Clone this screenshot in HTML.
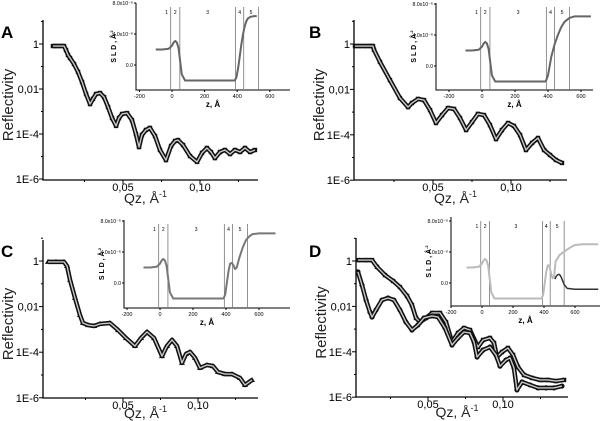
<!DOCTYPE html>
<html><head><meta charset="utf-8"><style>
html,body{margin:0;padding:0;background:#fff;}
svg{display:block;font-family:"Liberation Sans",sans-serif;}
</style></head><body>
<svg id="fig" width="600" height="421" viewBox="0 0 600 421" xmlns="http://www.w3.org/2000/svg">
<rect width="600" height="421" fill="#fff"/>
</svg>
<script>
// ---- Panel A data ----
const qA=[.0045,.0065,.0091,.0117,.013,.0143,.0156,.0182,.0208,.0234,.026,.0286,.0305,.0325,.0351,.0377,.0403,.0429,.0455,.0474,.0494,.0526,.0558,.0584,.0604,.0623,.0649,.0675,.0708,.074,.0779,.0812,.0838,.0857,.089,.0935,.0981,.1013,.1045,.1071,.1097,.113,.1162,.1195,.1227,.126,.1292,.1325,.1357];
const logRA=[-.09,-.09,-.09,-.09,-.27,-.49,-.62,-.89,-1.24,-1.69,-2.22,-2.67,-2.44,-2.22,-2.18,-2.36,-2.8,-3.29,-3.64,-3.29,-3.11,-3.07,-3.38,-4.0,-4.58,-4.04,-3.82,-3.73,-4.09,-4.71,-5.16,-4.53,-4.31,-4.27,-4.49,-4.98,-5.24,-4.84,-4.62,-4.8,-5.07,-4.8,-4.71,-4.89,-4.71,-4.8,-4.62,-4.8,-4.71];
// ---- Panel B data ----
const qB=[0,.0032,.0064,.0096,.0115,.0122,.016,.0224,.0288,.034,.0365,.0404,.0442,.0481,.0519,.0558,.0596,.0635,.0673,.0712,.075,.0788,.0827,.0865,.0904,.0942,.0981,.1019,.1058,.1096,.1135,.1173,.1212,.125,.1288,.1327];
const logRB=[-.09,-.09,-.09,-.09,-.09,-.26,-.79,-1.59,-2.38,-2.78,-2.6,-2.42,-2.47,-2.91,-3.48,-3.13,-2.82,-2.86,-3.26,-3.79,-3.44,-3.08,-3.13,-3.57,-4.19,-3.79,-3.48,-3.61,-4.01,-4.67,-4.36,-4.14,-4.67,-4.89,-5.11,-5.24];
// ---- Panel C data ----
const qC=[0,.0053,.0107,.0127,.0147,.018,.0213,.0233,.0267,.0307,.0347,.0413,.0467,.052,.058,.062,.066,.0707,.076,.0793,.0827,.086,.0893,.092,.0947,.098,.1013,.106,.11,.1133,.118,.1227,.128,.1313,.136];
const logRC=[-.04,-.04,-.04,-.22,-.83,-1.62,-2.37,-2.72,-2.81,-2.85,-2.76,-2.72,-3.03,-3.38,-3.73,-3.38,-3.11,-3.38,-4.17,-3.73,-3.46,-3.73,-4.47,-4.08,-3.99,-4.25,-4.69,-4.56,-4.61,-4.87,-4.96,-4.96,-5.13,-5.44,-5.22];
// ---- Panel D data ----
const qD1=[.0033,.0087,.0127,.016,.0213,.0267,.0313,.036,.0393,.042,.0447,.0487,.0527,.058,.062,.066,.07,.074,.078,.0833,.0867,.0913,.094,.096,.0993,.1033,.1067,.11,.114,.1193,.1247,.13,.1353,.1407];
const logRD1=[.04,.04,.04,-.26,-.62,-.88,-1.15,-1.54,-1.94,-2.51,-2.69,-2.51,-2.29,-2.29,-2.69,-3.57,-3.17,-2.95,-3.04,-3.79,-3.48,-3.39,-3.61,-4.23,-4.01,-3.83,-4.14,-4.67,-5.02,-5.15,-5.24,-5.24,-5.29,-5.24];
const qD2=[.0033,.006,.0087,.0113,.0127,.0153,.0193,.0233,.0273,.0313,.0353,.0393,.0433,.0473,.0527,.0567,.0613,.066,.07,.074,.078,.0807,.0827,.0867,.0913,.0953,.098,.102,.1047,.1073,.1093,.1127,.118,.1233,.1287,.134,.1393];
const logRD2=[-.48,-1.06,-1.72,-2.25,-2.47,-2.16,-1.72,-1.63,-1.72,-2.16,-2.69,-3.04,-2.82,-2.51,-2.42,-2.47,-2.95,-3.7,-3.39,-3.13,-3.17,-3.57,-4.23,-3.92,-3.79,-4.14,-4.63,-4.36,-4.27,-4.71,-5.68,-5.33,-5.46,-5.59,-5.59,-5.59,-5.51];
// ---- SLD profiles ----
const zBase=[-100,-60,-20,0,10,20,30,40,50,60,80,150,250,350,385];
const sldBase=[2,2,2.1,2.5,2.9,3.1,2.9,2.2,0.5,-1.2,-2,-2,-2,-2,-2];
const zTailA=[395,405,415,425,435,445,455,465,480,500,520];
const sldTailA=[-1.6,-0.5,1,2.6,3.9,4.9,5.6,6,6.2,6.3,6.3];
const zTailB=[390,400,410,420,440,460,480,500,530,560,620,660];
const sldTailB=[-1.8,-1.2,0,1.2,2.8,4,5,5.7,6.2,6.4,6.4,6.4];
const zTailC=[395,405,415,425,435,445,455,465,480,500,520,540,560,600,700];
const sldTailC=[-1.5,0,1.5,2.5,2.6,2.3,1.8,2.0,3.2,4.5,5.5,6,6.3,6.4,6.4];
const zTailD=[395,405,415,425,435,445,455,465,475,500,540,580,600,650,750];
const sldTailD=[-1.5,0,1.5,2.3,2.2,1.3,0.6,0.8,2.8,3.6,4.2,4.7,4.9,5,5];
const zDark=[470,480,490,500,510,520,530,550,600,750];
const sldDark=[0.5,0.9,1.1,1.1,0.8,0.3,-0.2,-0.7,-0.8,-0.8];
const regionZ=[-8,48,390,440,530];
const regionLabels=["1","2","3","4","5"];
const yTickLogs=[0,-2,-4,-6];
const yTickLabels=["1","0,01","1E-4","1E-6"];
const xTickQs=[0.05,0.10];
const xTickLabels=["0,05","0,10"];
const zTicks=[-200,0,200,400,600];
const sldTicks=[0,4,8];
const sldTickLabels=["0.0","4.0x10\u207B\u2076","8.0x10\u207B\u2076"];

const NS="http://www.w3.org/2000/svg";
const svg=document.getElementById('fig');
function el(tag,attrs,parent,text){const e=document.createElementNS(NS,tag);for(const k in attrs)e.setAttribute(k,attrs[k]);if(text!==undefined)e.textContent=text;(parent||svg).appendChild(e);return e;}

function panel(P){
  const g=el('g',{});
  
  
  const X=q=>P.q0+q*P.qs, Y=l=>P.y0-l*P.dec;
  const lt=el('text',{x:P.lx,y:P.ly,'font-size':17,'font-weight':'bold',fill:'#000'},g,P.id);
  
  
  const ax=el('path',{d:`M${P.L},${P.T}V${P.B}H${P.R}`,stroke:'#000','stroke-width':1.3,fill:'none'},g);
  
  
  for(let d=0;d>=-6;d--){ el('line',{x1:P.L-(d%2===0?4:2),x2:P.L,y1:Y(d),y2:Y(d),stroke:'#000'},g);}
  el('line',{x1:P.L-2,x2:P.L,y1:Y(1),y2:Y(1),stroke:'#000'},g);
  yTickLogs.forEach((l,i)=>{const t=el('text',{x:P.L-4,y:Y(l)+4,'font-size':11,'text-anchor':'end'},g,yTickLabels[i]);
    
    });
  [0.025,0.05,0.075,0.1,0.125].forEach((q,k)=>el('line',{x1:X(q),x2:X(q),y1:P.B,y2:P.B+(k%2===1?4:2),stroke:'#000'},g));
  xTickQs.forEach((q,i)=>{const t=el('text',{x:X(q),y:P.B+11,'font-size':11,'text-anchor':'middle'},g,xTickLabels[i]);
    
    });
  const yt=el('text',{x:0,y:0,'font-size':15,'text-anchor':'middle',transform:`translate(${P.L-30},${(P.T+P.B)/2+5}) rotate(-90)`,fill:'#222'},g,'Reflectivity');
  
  
  const xt=el('text',{x:(P.L+P.R)/2-5,y:P.B+P.xtOff,'font-size':14,'text-anchor':'middle',fill:'#222'},g);
  
  
  xt.innerHTML='Qz, \u00C5<tspan dy="-6" font-size="9">-1</tspan>';
  P.series.forEach((s,si)=>{
    const pts=s.q.map((q,i)=>[X(q),Y(s.l[i])]);
    const band=el('polyline',{points:pts.map(p=>p.join(',')).join(' '),fill:'none',stroke:'#111','stroke-width':4.5,'stroke-linejoin':'round'},g);
    
    
    pts.forEach(p=>{
      let m;
      if(s.m==='sq') m=el('rect',{x:p[0]-2.2,y:p[1]-2.2,width:4.4,height:4.4,fill:'#111'},g);
      else if(s.m==='tri') m=el('path',{d:`M${p[0]},${p[1]-3}l3,5h-6z`,fill:'#111'},g);
      else m=el('circle',{cx:p[0],cy:p[1],r:2.6,fill:'#111'},g);
      
      
    });
    const fit=el('polyline',{points:pts.map(p=>p.join(',')).join(' '),fill:'none',stroke:'#c8c8c8','stroke-width':1.4,'stroke-linejoin':'round'},g);
    
    
  });
  const I=P.inset;
  const ig=el('g',{},g);
  
  
  const ZX=z=>I.z0+z*I.zs, SY=s=>I.s0-s*I.ss;
  el('rect',{x:I.L,y:I.T,width:I.R-I.L,height:I.B-I.T,fill:'#fff'},ig);
  el('path',{d:`M${I.L},${I.T}V${I.B}H${I.R}`,stroke:'#000','stroke-width':1,fill:'none'},ig);
  zTicks.forEach(z=>{el('line',{x1:ZX(z),x2:ZX(z),y1:I.B,y2:I.B+2,stroke:'#000'},ig);
    const t=el('text',{x:ZX(z),y:I.B+8,'font-size':5.5,'text-anchor':'middle'},ig,String(z));
    
    });
  sldTicks.forEach((s,i)=>{el('line',{x1:I.L-2,x2:I.L,y1:SY(s),y2:SY(s),stroke:'#000'},ig);
    const t=el('text',{x:I.L-3,y:SY(s)+2,'font-size':5.2,'text-anchor':'end'},ig,sldTickLabels[i]);
    
    });
  const zt=el('text',{x:(I.L+I.R)/2,y:I.B+17,'font-size':8,'font-weight':'bold','text-anchor':'middle'},ig,'z, \u00C5');
  
  
  const st=el('text',{x:0,y:0,'font-size':7,'font-weight':'bold','text-anchor':'middle',transform:`translate(${I.L-20},${(I.T+I.B)/2}) rotate(-90)`},ig);
  
  
  st.innerHTML='S L D ,  \u00C5<tspan dy="-3" font-size="4">-2</tspan>';
  regionZ.forEach((z,i)=>{const ln=el('line',{x1:ZX(z),x2:ZX(z),y1:I.T+4,y2:I.B,stroke:'#777','stroke-width':0.8},ig);
    
    
    const prev=i===0?-100:regionZ[i-1];
    const t=el('text',{x:ZX(i===0?z-25:(prev+z)/2),y:I.T+11,'font-size':5,'text-anchor':'middle'},ig,regionLabels[i]);
    
    });
  I.profiles.forEach(pr=>{
    const pts=pr.z.map((z,i)=>ZX(z)+','+SY(pr.s[i])).join(' ');
    const pl=el('polyline',{points:pts,fill:'none',stroke:pr.c,'stroke-width':pr.w,'stroke-linejoin':'round'},ig);
    
    
  });
}

panel({id:'A',lx:1,ly:38,L:43,R:258,T:20,B:180,y0:44,dec:22.5,q0:46,qs:1540,xtOff:23,
  series:[{q:qA,l:logRA,m:'sq'}],
  inset:{L:136,R:290,T:3,B:90,z0:172,zs:0.163,s0:65,ss:7.75,
    profiles:[{z:zBase.concat(zTailA),s:sldBase.concat(sldTailA),c:'#666',w:2}]}});
panel({id:'B',lx:309,ly:38,L:354,R:567,T:20,B:180,y0:44,dec:22.7,q0:355,qs:1560,xtOff:23,
  series:[{q:qB,l:logRB,m:'sq'}],
  inset:{L:436,R:593,T:3,B:90,z0:482,zs:0.165,s0:66,ss:7.75,
    profiles:[{z:zBase.concat(zTailB),s:sldBase.concat(sldTailB),c:'#666',w:2}]}});
panel({id:'C',lx:1,ly:257,L:43,R:258,T:240,B:398,y0:261,dec:22.8,q0:48,qs:1500,xtOff:20,
  series:[{q:qC,l:logRC,m:'tri'}],
  inset:{L:124,R:290,T:220,B:308,z0:160,zs:0.165,s0:283,ss:7.75,
    profiles:[{z:zBase.concat(zTailC),s:sldBase.concat(sldTailC),c:'#777',w:2}]}});
panel({id:'D',lx:309,ly:257,L:356,R:568,T:238,B:397,y0:261,dec:22.7,q0:353,qs:1500,xtOff:20,
  series:[{q:qD1,l:logRD1,m:'sq'},{q:qD2,l:logRD2,m:'ci'}],
  inset:{L:451,R:600,T:217,B:306,z0:482,zs:0.155,s0:283,ss:7.75,
    profiles:[{z:zBase.concat(zTailD),s:sldBase.concat(sldTailD),c:'#bbb',w:2},{z:zDark,s:sldDark,c:'#333',w:1.5}]}});
</script>
</body></html>
